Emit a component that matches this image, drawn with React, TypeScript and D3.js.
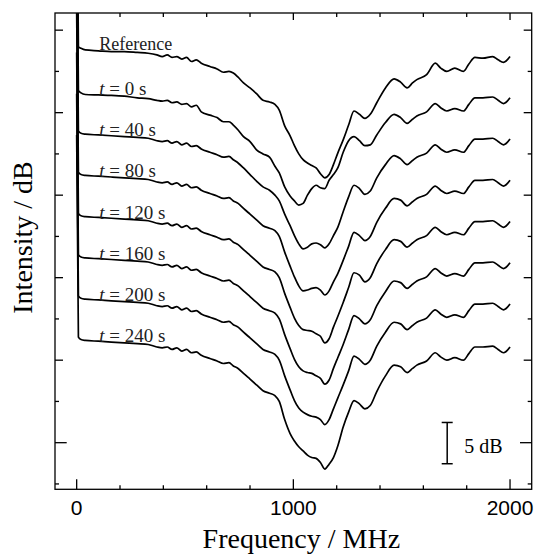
import React from 'react';
import * as d3 from 'd3';

// Frequency grid (MHz) shared by all traces
const FREQ_MHZ = [0, 8, 20, 40, 100, 160, 220, 280, 330, 370, 395, 418, 440, 462, 485, 507, 530, 552, 575, 615, 648, 677, 703, 723, 745, 770, 800, 830, 860, 890, 915, 935, 960, 985, 1005, 1025, 1045, 1065, 1085, 1105, 1125, 1145, 1165, 1185, 1205, 1230, 1255, 1280, 1305, 1330, 1355, 1385, 1425, 1465, 1495, 1525, 1550, 1570, 1615, 1655, 1680, 1708, 1745, 1785, 1810, 1838, 1875, 1920, 1945, 1970, 2000];

// Relative intensity (dB) of each trace
const REFERENCE = [25, 0.7, 0.5, 0.3, 0.2, 0.1, 0.1, 0.0, -0.1, -0.3, -0.5, -0.3, -0.6, -0.5, -0.8, -0.6, -1.1, -0.9, -1.3, -1.7, -2.0, -2.4, -2.3, -2.5, -3.0, -3.7, -4.3, -5.0, -5.8, -6.0, -6.3, -7.0, -8.9, -10.1, -11.3, -12.3, -13.0, -13.4, -13.7, -14.0, -14.7, -15.2, -14.8, -13.6, -12.2, -10.6, -8.8, -7.1, -7.5, -8.0, -7.5, -6.1, -4.3, -3.2, -3.6, -4.3, -3.7, -3.3, -2.7, -1.3, -1.9, -2.3, -1.9, -2.3, -1.4, -0.6, -0.7, -0.5, -0.9, -1.2, -0.5];
const T_0 = [25, 0.4, 0.1, -0.1, -0.15, -0.2, -0.3, -0.5, -0.6, -0.8, -0.9, -0.8, -1.1, -1.0, -1.3, -1.2, -1.6, -1.4, -2.2, -2.6, -2.9, -3.4, -3.4, -3.8, -4.4, -5.2, -5.8, -6.8, -7.3, -7.7, -8.8, -9.6, -11.3, -12.4, -13.0, -13.5, -13.3, -12.3, -11.5, -11.1, -11.4, -11.5, -10.5, -9.8, -9.0, -7.1, -5.7, -5.2, -5.7, -6.3, -6.2, -5.0, -3.5, -2.5, -2.9, -3.6, -3.1, -2.7, -2.2, -1.2, -1.7, -2.1, -1.8, -2.1, -1.3, -0.5, -0.5, -0.4, -0.8, -1.2, -0.5];
const T_40 = [25, 0.5, 0.2, 0.1, 0, -0.1, -0.2, -0.3, -0.4, -0.7, -0.8, -0.7, -1.0, -0.8, -1.2, -1.0, -1.4, -1.3, -1.7, -2.1, -2.4, -2.7, -2.6, -3.0, -3.4, -4.0, -4.8, -5.6, -6.3, -6.7, -7.3, -8.0, -9.6, -11.0, -12.2, -13.2, -13.8, -13.6, -13.2, -13.1, -13.3, -13.7, -13.2, -12.2, -11.2, -9.3, -7.5, -6.1, -6.5, -7.2, -6.8, -5.2, -3.6, -2.5, -2.9, -3.6, -3.1, -2.7, -2.2, -1.2, -1.7, -2.1, -1.8, -2.1, -1.3, -0.5, -0.5, -0.4, -0.8, -1.2, -0.5];
const T_80 = [25, 0.5, 0.2, 0.1, 0, -0.1, -0.2, -0.3, -0.4, -0.7, -0.8, -0.7, -1.0, -0.8, -1.2, -1.0, -1.4, -1.3, -1.7, -2.1, -2.4, -2.7, -2.6, -3.0, -3.3, -3.9, -4.6, -5.3, -6.0, -6.3, -6.6, -7.3, -9.2, -10.9, -12.2, -13.3, -13.9, -13.8, -13.6, -13.5, -13.8, -14.4, -13.9, -12.8, -11.8, -10.2, -8.5, -6.8, -7.2, -7.8, -7.3, -5.6, -3.9, -2.7, -2.9, -3.6, -3.1, -2.7, -2.2, -1.2, -1.7, -2.1, -1.8, -2.1, -1.3, -0.5, -0.5, -0.4, -0.8, -1.2, -0.5];
const T_120 = [25, 0.5, 0.2, 0.1, 0, -0.1, -0.2, -0.3, -0.4, -0.7, -0.8, -0.7, -1.0, -0.8, -1.2, -1.0, -1.4, -1.3, -1.7, -2.1, -2.4, -2.7, -2.6, -3.0, -3.3, -3.9, -4.6, -5.3, -6.0, -6.3, -6.6, -7.3, -9.2, -10.9, -12.2, -13.1, -13.6, -13.7, -13.8, -14.1, -14.4, -15.2, -14.7, -13.3, -12.0, -10.3, -8.5, -6.7, -7.0, -7.8, -7.3, -5.6, -3.9, -2.7, -2.9, -3.6, -3.1, -2.7, -2.2, -1.2, -1.7, -2.1, -1.8, -2.1, -1.3, -0.5, -0.5, -0.4, -0.8, -1.2, -0.5];
const T_160 = [25, 0.5, 0.2, 0.1, 0, -0.1, -0.2, -0.3, -0.4, -0.7, -0.8, -0.7, -1.0, -0.8, -1.2, -1.0, -1.4, -1.3, -1.7, -2.1, -2.4, -2.7, -2.6, -3.0, -3.3, -3.9, -4.6, -5.3, -6.0, -6.3, -6.6, -7.3, -9.2, -10.9, -12.2, -13.1, -13.6, -13.8, -13.9, -14.2, -14.5, -15.2, -14.7, -13.3, -12.0, -10.4, -8.6, -6.9, -7.3, -7.9, -7.4, -5.7, -4.0, -2.7, -2.9, -3.6, -3.1, -2.7, -2.2, -1.2, -1.7, -2.1, -1.8, -2.1, -1.3, -0.5, -0.5, -0.4, -0.8, -1.2, -0.5];
const T_200 = [25, 0.5, 0.2, 0.1, 0, -0.1, -0.2, -0.3, -0.4, -0.7, -0.8, -0.7, -1.0, -0.8, -1.2, -1.0, -1.4, -1.3, -1.7, -2.1, -2.4, -2.7, -2.6, -3.0, -3.3, -3.9, -4.6, -5.3, -6.0, -6.3, -6.6, -7.3, -9.2, -10.9, -12.2, -13.1, -13.6, -13.9, -14.1, -14.2, -14.5, -15.1, -14.5, -13.2, -11.9, -10.3, -8.6, -6.8, -7.2, -7.8, -7.3, -5.6, -3.9, -2.7, -2.9, -3.6, -3.1, -2.7, -2.2, -1.2, -1.7, -2.1, -1.8, -2.1, -1.3, -0.5, -0.5, -0.4, -0.8, -1.2, -0.5];
const T_240 = [25, 0.5, 0.2, 0.1, 0, -0.1, -0.2, -0.3, -0.4, -0.7, -0.8, -0.7, -1.0, -0.8, -1.2, -1.0, -1.4, -1.3, -1.7, -2.1, -2.4, -2.7, -2.6, -3.0, -3.3, -3.9, -4.6, -5.3, -6.0, -6.3, -6.6, -7.3, -9.5, -11.2, -12.1, -12.8, -13.3, -13.8, -14.1, -14.2, -14.7, -15.5, -14.9, -14.1, -12.7, -10.4, -8.6, -7.2, -7.6, -8.2, -7.8, -6.1, -4.2, -2.9, -3.1, -3.8, -3.3, -2.9, -2.4, -1.4, -1.9, -2.3, -2.0, -2.3, -1.5, -0.7, -0.7, -0.6, -1.0, -1.4, -0.7];

const SERIES = [REFERENCE, T_0, T_40, T_80, T_120, T_160, T_200, T_240];
const SERIES_TIMES = ['', '0', '40', '80', '120', '160', '200', '240'];
const REFERENCE_LABEL = 'Reference';

// Waterfall offsets (dB)
const TOP_LEVEL_DB = 47.3;
const OFFSET_STEP_DB = 5;

// Axes
const X_TICKS = [0, 200, 400, 600, 800, 1000, 1200, 1400, 1600, 1800, 2000];
const X_MAJOR = [0, 1000, 2000];
const Y_TICKS = [-5, 0, 5, 10, 15, 20, 25, 30, 35, 40, 45, 50];
const X_TITLE = 'Frequency / MHz';
const Y_TITLE = 'Intensity / dB';

// Scale bar
const SCALE_BAR_FREQ = 1710;
const SCALE_BAR_FROM_DB = -2.55;
const SCALE_BAR_DB = 5;
const SCALE_BAR_LABEL = '5 dB';

export default function App() {
  const W = 537, H = 557;
  const left = 55, right = 531.7, top = 13, bottom = 489.3;
  const x = d3.scaleLinear().domain([-100, 2100]).range([left, right]);
  const y = d3.scaleLinear().domain([-5.65, 52.08]).range([bottom, top]);

  const line = d3
    .line<[number, number]>()
    .x((d) => x(d[0]))
    .y((d) => y(d[1]))
    .curve(d3.curveMonotoneX);

  const serif = '"Liberation Serif", "Times New Roman", serif';
  const sans = '"Liberation Sans", Arial, sans-serif';
  const stroke = '#000';

  const barX = x(SCALE_BAR_FREQ);
  const barY1 = y(SCALE_BAR_FROM_DB);
  const barY2 = y(SCALE_BAR_FROM_DB + SCALE_BAR_DB);

  return (
    <svg
      width={W}
      height={H}
      viewBox={`0 0 ${W} ${H}`}
      style={{ position: 'absolute', left: 0, top: 0, background: '#fff' }}
    >
      <defs>
        <clipPath id="plot-clip">
          <rect x={left} y={top} width={right - left} height={bottom - top} />
        </clipPath>
      </defs>
      <rect x={0} y={0} width={W} height={H} fill="#fff" />

      {/* traces */}
      <g clipPath="url(#plot-clip)">
        {SERIES.map((vals, i) => {
          const level = TOP_LEVEL_DB - OFFSET_STEP_DB * i;
          const pts: [number, number][] = FREQ_MHZ.map((f, k) => [f, level + vals[k]]);
          return (
            <path
              key={i}
              d={line(pts) || ''}
              fill="none"
              stroke={stroke}
              strokeWidth={1.7}
              strokeLinejoin="round"
            />
          );
        })}
      </g>

      {/* trace labels */}
      {SERIES.map((_, i) => {
        const level = TOP_LEVEL_DB - OFFSET_STEP_DB * i;
        if (i === 0) {
          return (
            <text key={i} x={99.3} y={y(level) - 2.3} fontFamily={serif} fontSize={18} fill="#222">
              {REFERENCE_LABEL}
            </text>
          );
        }
        return (
          <text key={i} x={99.3} y={y(level) + 1.2} fontFamily={serif} fontSize={19} fill="#222">
            <tspan fontStyle="italic">t</tspan>
            {` = ${SERIES_TIMES[i]} s`}
          </text>
        );
      })}

      {/* frame */}
      <rect x={left} y={top} width={right - left} height={bottom - top} fill="none" stroke={stroke} strokeWidth={1.3} />

      {/* x ticks */}
      {X_TICKS.map((t) => {
        const major = X_MAJOR.includes(t);
        const xx = x(t);
        return (
          <g key={'xt' + t}>
            <line x1={xx} x2={xx} y1={bottom} y2={bottom - (major ? 10 : 4)} stroke={stroke} strokeWidth={1.3} />
            <line x1={xx} x2={xx} y1={top} y2={top + (major ? 7 : 4)} stroke={stroke} strokeWidth={1.3} />
          </g>
        );
      })}
      {X_MAJOR.map((t) => (
        <text key={'xl' + t} x={x(t)} y={514.5} textAnchor="middle" fontFamily={sans} fontSize={21} fill="#000">
          {String(t)}
        </text>
      ))}

      {/* y ticks */}
      {Y_TICKS.map((v) => {
        const len = v === 0 ? 11.7 : v % 10 === 0 ? 8 : 4;
        const yy = y(v);
        return (
          <g key={'yt' + v}>
            <line x1={left} x2={left + len} y1={yy} y2={yy} stroke={stroke} strokeWidth={1.3} />
            <line x1={right} x2={right - len} y1={yy} y2={yy} stroke={stroke} strokeWidth={1.3} />
          </g>
        );
      })}

      {/* axis titles */}
      <text x={(left + right) / 2 + 8} y={547.5} textAnchor="middle" fontFamily={serif} fontSize={28} fill="#000">
        {X_TITLE}
      </text>
      <text
        transform={`translate(32, ${237.5}) rotate(-90)`}
        textAnchor="middle"
        fontFamily={serif}
        fontSize={28}
        fill="#000"
      >
        {Y_TITLE}
      </text>

      {/* scale bar */}
      <line x1={barX} x2={barX} y1={barY1} y2={barY2} stroke={stroke} strokeWidth={1.5} />
      <line x1={barX - 5.5} x2={barX + 5.5} y1={barY1} y2={barY1} stroke={stroke} strokeWidth={1.5} />
      <line x1={barX - 5.5} x2={barX + 5.5} y1={barY2} y2={barY2} stroke={stroke} strokeWidth={1.5} />
      <text x={464.3} y={453.3} fontFamily={serif} fontSize={20} fill="#000">
        {SCALE_BAR_LABEL}
      </text>
    </svg>
  );
}
